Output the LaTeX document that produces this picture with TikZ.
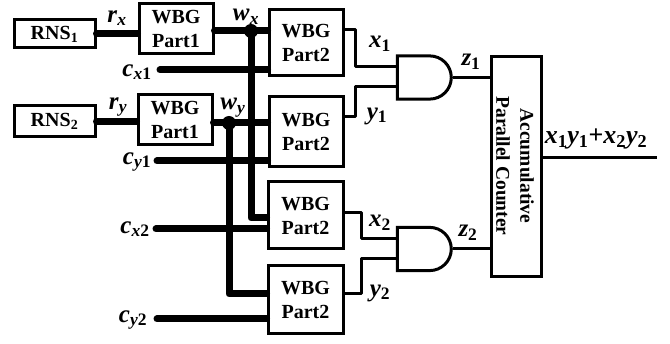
\documentclass[tikz,border=0pt]{standalone}
\usepackage{fontspec}
\setmainfont{Liberation Serif}
\usepackage{tikz}
\usetikzlibrary{shapes.gates.logic.US}
\newcommand{\sig}[2]{\textit{#1}\textsubscript{#2}}

\begin{document}
\begin{tikzpicture}[
    x=1pt, y=-1pt,
    box/.style={rectangle, draw=black, line width=3pt, fill=white, inner sep=0pt, align=center, font=\fontsize{20}{24}\selectfont\bfseries},
    andgate/.style={and gate US, logic gate inputs=nn, draw=black, line width=3pt, inner sep=0pt, minimum width=54pt, minimum height=41pt},
    siglabel/.style={inner sep=0pt, font=\fontsize{25}{25}\selectfont\bfseries},
    bus/.style={line width=7pt, line cap=round, line join=round},
    wire/.style={line width=3pt, line join=round},
    dot/.style={circle, fill=black, inner sep=0pt, minimum size=14pt}
]
\useasboundingbox (0,0) rectangle (670,344);

\node (rns1) [box, minimum width=81pt, minimum height=28pt] at (54.5,34) {RNS\textsubscript{1}};
\node (rns2) [box, minimum width=81pt, minimum height=31pt] at (54.5,121.5) {RNS\textsubscript{2}};
\node (first1) [box, minimum width=74pt, minimum height=50pt] at (176,29) {WBG\\Part1};
\node (first2) [box, minimum width=74pt, minimum height=50pt] at (175,120) {WBG\\Part1};
\node (second1) [box, minimum width=74pt, minimum height=66pt] at (306,43) {WBG\\Part2};
\node (second2) [box, minimum width=74pt, minimum height=70pt] at (306,132) {WBG\\Part2};
\node (second3) [box, minimum width=75pt, minimum height=67pt] at (305.5,215.5) {WBG\\Part2};
\node (second4) [box, minimum width=75pt, minimum height=68pt] at (305.5,300) {WBG\\Part2};
\node (and1) [andgate] at (422.5,77.5) {};
\node (and2) [andgate] at (422.5,249) {};
\node (counter) [box, minimum width=50pt, minimum height=220pt] at (516,167) {};
\node (countertext) [rotate=-90, align=center, inner sep=0pt, font=\fontsize{19.5}{24}\selectfont\bfseries] at (515,166) {Accumulative\\Parallel Counter};

\coordinate (wx) at (251,31);
\coordinate (wy) at (229,123);
\coordinate (cx1) at (160,70);
\coordinate (cy1) at (157,161);
\coordinate (cx2) at (156,229);
\coordinate (cy2) at (157,319);
\coordinate (out) at (657,158);
\coordinate (bendx1) at (355,30);
\coordinate (bendy1) at (355,117);
\coordinate (bendx2) at (361,213);
\coordinate (bendy2) at (361,294);
\coordinate (inx1) at (397,67);
\coordinate (iny1) at (397,87);
\coordinate (inx2) at (397,239);
\coordinate (iny2) at (397,259);

\draw [bus] (rns1.east) -- (rns1.east -| first1.west);
\draw [bus] (rns2.east) -- (rns2.east -| first2.west);
\draw [bus] (wx -| first1.east) -- (wx -| second1.west);
\draw [bus] (wy -| first2.east) -- (wy -| second2.west);
\draw [bus] (wx) -- (wx |- 0,218) -- (second3.west |- 0,218);
\draw [bus] (wy) -- (wy |- bendy2) -- (second4.west |- bendy2);
\draw [bus] (cx1) -- (cx1 -| second1.west);
\draw [bus] (cy1) -- (cy1 -| second2.west);
\draw [bus] (cx2) -- (cx2 -| second3.west);
\draw [bus] (cy2) -- (cy2 -| second4.west);
\node (dotx) [dot] at (wx) {};
\node (doty) [dot] at (wy) {};

\draw [wire] (bendx1 -| second1.east) -- (bendx1) |- (inx1);
\draw [wire] (bendy1 -| second2.east) -- (bendy1) |- (iny1);
\draw [wire] (bendx2 -| second3.east) -- (bendx2) |- (inx2);
\draw [wire] (bendy2 -| second4.east) -- (bendy2) |- (iny2);
\draw [wire] (and1.east) -- (and1.east -| counter.west);
\draw [wire] (and2.east) -- (and2.east -| counter.west);
\draw [wire] (out -| counter.east) -- (out);

\node (rx) [siglabel] at (117,18) {\sig{r}{\textit{x}}};
\node (ry) [siglabel] at (118,107) {\sig{r}{\textit{y}}};
\node (wxlabel) [siglabel] at (246,17) {\sig{w}{\textit{x}}};
\node (wylabel) [siglabel] at (233,108) {\sig{w}{\textit{y}}};
\node (cx1label) [siglabel] at (137,72) {\sig{c}{\textit{x}1}};
\node (cy1label) [siglabel] at (137,162) {\sig{c}{\textit{y}1}};
\node (cx2label) [siglabel] at (135,229) {\sig{c}{\textit{x}2}};
\node (cy2label) [siglabel] at (133,320) {\sig{c}{\textit{y}2}};
\node (x1) [siglabel] at (380,44) {\sig{x}{1}};
\node (y1) [siglabel] at (377,116) {\sig{y}{1}};
\node (x2) [siglabel] at (380,223) {\sig{x}{2}};
\node (y2) [siglabel] at (380,293) {\sig{y}{2}};
\node (z1) [siglabel] at (471,62) {\sig{z}{1}};
\node (z2) [siglabel] at (468,233) {\sig{z}{2}};
\node (sum) [siglabel, font=\fontsize{26}{26}\selectfont\bfseries] at (596,139) {\sig{x}{1}\sig{y}{1}+\sig{x}{2}\sig{y}{2}};
\end{tikzpicture}
\end{document}
